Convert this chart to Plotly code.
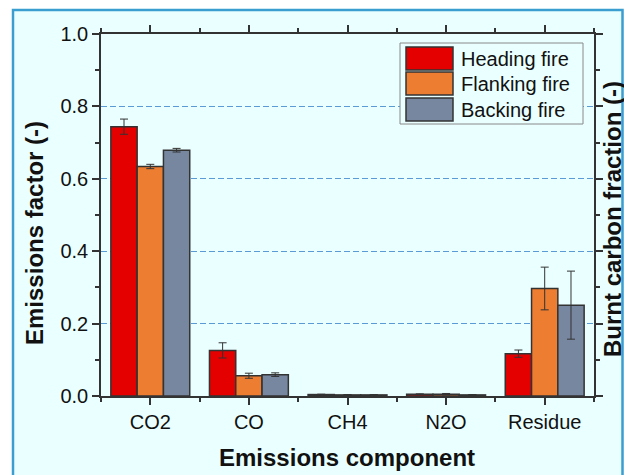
import numpy as np
import plotly.graph_objects as go

categories = ["CO2", "CO", "CH4", "N2O", "Residue"]
series_names = ["Heading fire", "Flanking fire", "Backing fire"]
heading = [0.744, 0.126, 0.004, 0.005, 0.117]
heading_err = [0.021, 0.021, 0.001, 0.001, 0.010]
flanking = [0.634, 0.056, 0.003, 0.005, 0.297]
flanking_err = [0.006, 0.007, 0.001, 0.002, 0.059]
backing = [0.679, 0.059, 0.003, 0.003, 0.251]
backing_err = [0.005, 0.005, 0.001, 0.001, 0.094]
colors = ["#e50000", "#ed7d31", "#7887a0"]
y_ticks = [0.0, 0.2, 0.4, 0.6, 0.8, 1.0]

FONT = "Liberation Sans, Arial, sans-serif"
xpos = np.arange(len(categories))

fig = go.Figure()
for name, vals, errs, col in zip(series_names, [heading, flanking, backing],
                                 [heading_err, flanking_err, backing_err], colors):
    fig.add_trace(go.Bar(
        x=xpos, y=vals, name=name, marker=dict(color=col, line=dict(color="#333333", width=1.5)),
        error_y=dict(type="data", array=errs, visible=True, color="#333333", thickness=1, width=4),
        showlegend=False,
    ))

# page offset (body margin) of 8 px
OFF = 8
# plot area in page pixels: x 101..594, y 34..396
L, R, T, B = 101 - OFF, 594 - OFF, 34 - OFF, 396 - OFF
FW, FH = 632 - OFF, 475 - OFF
W, H = R - L, B - T
def px(x):
    return (x - OFF - L) / W
def py(y):
    return (B - (y - OFF)) / H

shapes = [
    dict(type="rect", xref="paper", yref="paper", x0=px(13), x1=px(622.5), y0=py(520), y1=py(10),
         fillcolor="#eaffff", line=dict(color="#3a9fd0", width=2.5), layer="below"),
    dict(type="rect", xref="paper", yref="paper", x0=px(400), x1=px(583), y0=py(124), y1=py(43),
         fillcolor="#eaffff", line=dict(color="#888888", width=1), layer="above"),
]
annotations = []
sw_tops = [47, 72, 98]
for i, (name, col) in enumerate(zip(series_names, colors)):
    top = sw_tops[i]
    shapes.append(dict(type="rect", xref="paper", yref="paper", x0=px(406), x1=px(453),
                       y0=py(top + 23), y1=py(top), fillcolor=col,
                       line=dict(color="#333333", width=1.5), layer="above"))
    annotations.append(dict(xref="paper", yref="paper", x=px(459), y=py(top + 12), text=name,
                            showarrow=False, xanchor="left", yanchor="middle",
                            font=dict(family=FONT, size=20, color="#111111")))

annotations.append(dict(xref="paper", yref="paper", x=px(612), y=py(219), text="<b>Burnt carbon fraction (-)</b>",
                        textangle=-90, showarrow=False, xanchor="center", yanchor="middle",
                        font=dict(family=FONT, size=24, color="#111111")))
annotations.append(dict(xref="paper", yref="paper", x=px(34), y=py(233), text="<b>Emissions factor (-)</b>",
                        textangle=-90, showarrow=False, xanchor="center", yanchor="middle",
                        font=dict(family=FONT, size=24, color="#111111")))
annotations.append(dict(xref="paper", yref="paper", x=px(347), y=py(457), text="<b>Emissions component</b>",
                        showarrow=False, xanchor="center", yanchor="middle",
                        font=dict(family=FONT, size=24, color="#111111")))

axis_common = dict(showline=True, linecolor="#333333", linewidth=1.5, ticks="outside",
                   tickcolor="#333333", tickwidth=1.5, mirror="allticks", zeroline=False)

fig.update_layout(
    width=FW, height=FH,
    margin=dict(l=L, r=FW - R, t=T, b=FH - B),
    paper_bgcolor="white", plot_bgcolor="#eaffff",
    barmode="group", bargap=0.2, bargroupgap=0,
    font=dict(family=FONT, color="#111111"),
    shapes=shapes, annotations=annotations,
    xaxis=dict(**axis_common, range=[-0.5, 4.5], tickmode="array", tickvals=xpos, ticktext=categories,
               ticklen=7, tickfont=dict(size=20, family=FONT, color="#111111"),
               minor=dict(ticks="outside", tickmode="array", tickvals=list(np.arange(-0.5, 4.6, 1.0)),
                          ticklen=4, tickwidth=1.5, tickcolor="#333333", showgrid=False),
               showgrid=False),
    yaxis=dict(**axis_common, range=[0, 1.0], tickmode="array", tickvals=y_ticks,
               ticktext=[f"{v:.1f}" for v in y_ticks], ticklen=7,
               tickfont=dict(size=20, family=FONT, color="#111111"),
               minor=dict(ticks="outside", dtick=0.1, ticklen=4, tickwidth=1.5, tickcolor="#333333",
                          showgrid=False),
               showgrid=True, gridcolor="#5b9bd5", gridwidth=1.2, griddash="6px,3px"),
)

fig.write_html("out.html")
